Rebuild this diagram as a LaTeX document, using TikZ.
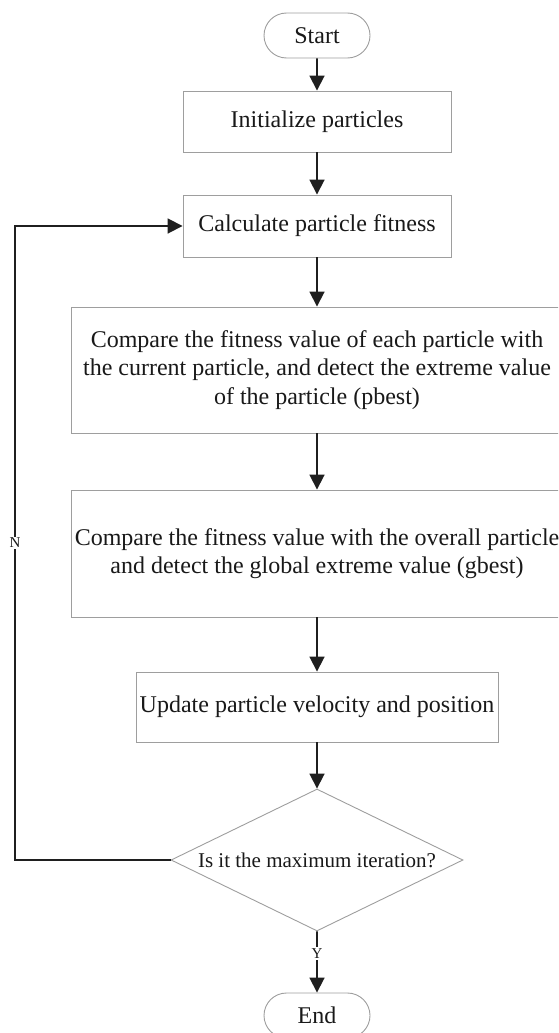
\documentclass[tikz,border=0pt]{standalone}
\usepackage{fontspec}
\setmainfont{Liberation Serif}
\usetikzlibrary{arrows.meta, positioning, shapes.geometric, shapes.misc}

\begin{document}
\begin{tikzpicture}[x=1pt, y=-1pt,
    every node/.style={font=\fontsize{24}{28.5}\selectfont, text=black!90},
    pb/.style={draw=black!38, line width=0.9pt, fill=white, align=center, inner sep=0pt},
    term/.style={pb, rounded rectangle, minimum width=106pt, minimum height=45pt},
    dec/.style={pb, diamond, aspect=2.2, minimum width=292pt, minimum height=142pt,
      font=\fontsize{21}{25}\selectfont},
    a/.style={-{Triangle[length=15pt, width=15pt]}, line width=1.8pt, draw=black!88},
    al/.style={font=\fontsize{15}{17}\selectfont, fill=white, inner sep=1.5pt}
]
\useasboundingbox (0,0) rectangle (558,1033);
\clip (0,0) rectangle (558,1033);
\node[term] (start) at (317,35.5) {Start};
\node[pb, minimum width=268pt, minimum height=61pt] (init) at (317,121.5) {Initialize particles};
\node[pb, minimum width=268pt, minimum height=62pt] (calc) at (317,226) {Calculate particle fitness};
\node[pb, minimum width=492pt, minimum height=126pt] (cmp1) at (317,370) {Compare the fitness value of each particle with\\the current particle, and detect the extreme value\\of the particle (pbest)};
\node[pb, minimum width=492pt, minimum height=127pt] (cmp2) at (317,553.5) {Compare the fitness value with the overall particle\\and detect the global extreme value (gbest)};
\node[pb, minimum width=362pt, minimum height=70pt] (upd) at (317,707) {Update particle velocity and position};
\node[dec] (chk) at (317,860) {Is it the maximum iteration?};
\node[term] (end) at (317,1015.5) {End};
\coordinate (back) at (15,860);
\draw[a] (start) -- (init);
\draw[a] (init) -- (calc);
\draw[a] (calc) -- (cmp1);
\draw[a] (cmp1) -- (cmp2);
\draw[a] (cmp2) -- (upd);
\draw[a] (upd) -- (chk);
\draw[a] (chk) -- node[al, pos=0.36]{Y} (end);
\draw[a] (chk.west) -- (back) |- node[al, pos=0.25]{N} (calc.west);
\end{tikzpicture}
\end{document}
